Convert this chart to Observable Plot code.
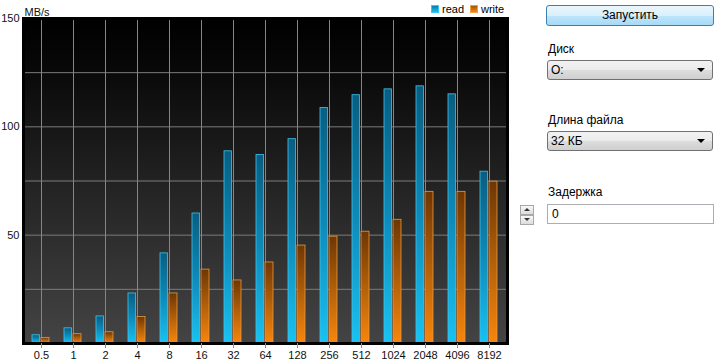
<!DOCTYPE html>
<html>
<head>
<meta charset="utf-8">
<script src="https://cdn.jsdelivr.net/npm/d3@7"></script>
<script src="https://cdn.jsdelivr.net/npm/@observablehq/plot@0.6"></script>
<style>
  html, body { margin: 0; padding: 0; background: #fff; }
  #root { position: relative; width: 718px; height: 360px; overflow: hidden; font-family: "Liberation Sans", Arial, sans-serif; font-size: 12px; color: #000; }
  #chart { position: absolute; left: 0; top: 0; }
  .abs { position: absolute; }
  .legend { position: absolute; top: 3px; font-size: 11px; line-height: 12px; white-space: nowrap; }
  .sw { display: inline-block; width: 6px; height: 6px; vertical-align: 0px; margin-right: 3px; }
  .btn { position: absolute; left: 546px; top: 5px; width: 166px; height: 19px; border: 1px solid #3c7fb1; border-radius: 3px;
         background: linear-gradient(#eaf6fd 0%, #d9f0fc 50%, #bee6fd 51%, #a7d9f5 100%); text-align: center; line-height: 19px; font-size: 12px; }
  .lbl { position: absolute; left: 548px; font-size: 12px; }
  .sel { position: absolute; left: 547px; width: 164px; height: 18px; border: 1px solid #707070; border-radius: 3px;
         background: linear-gradient(#f2f2f2 0%, #ebebeb 50%, #dddddd 51%, #cfcfcf 100%); font-size: 12px; line-height: 18px; }
  .sel span { position: absolute; left: 3px; top: 0; }
  .sel i { position: absolute; right: 7px; top: 7px; width: 0; height: 0; border-left: 4px solid transparent; border-right: 4px solid transparent; border-top: 4px solid #000; }
  .inp { position: absolute; left: 547px; top: 204px; width: 165px; height: 18px; border: 1px solid #abadb3; background: #fff; font-size: 12px; line-height: 18px; }
  .spin { position: absolute; left: 520px; width: 12px; height: 8px; border: 1px solid #a8a8a8; background: linear-gradient(#f8f8f8, #dcdcdc); }
  .spin i { position: absolute; left: 3px; width: 0; height: 0; border-left: 3px solid transparent; border-right: 3px solid transparent; }
</style>
</head>
<body>
<div id="root">
  <div id="chart"></div>
  <div class="legend" style="left:431px;"><span class="sw" style="background:linear-gradient(#0a7fae,#1bbcef);border:0.5px solid #38c6f3"></span>read</div>
  <div class="legend" style="left:470px;"><span class="sw" style="background:linear-gradient(#a65408,#f08a1c);border:0.5px solid #f5a040"></span>write</div>

  <div class="btn">Запустить</div>
  <div class="lbl" style="top:42px;">Диск</div>
  <div class="sel" style="top:60px;"><span>O:</span><i></i></div>
  <div class="lbl" style="top:113px;">Длина файла</div>
  <div class="sel" style="top:131px;"><span>32 КБ</span><i></i></div>
  <div class="lbl" style="top:185px;">Задержка</div>
  <div class="spin" style="top:205px;"><i style="top:2px;border-bottom:3px solid #333;"></i></div>
  <div class="spin" style="top:215px;"><i style="top:2px;border-top:3px solid #333;"></i></div>
  <div class="inp"><span style="position:absolute;left:4px;">0</span></div>
</div>
<script>
// ---- data ----
const blockSizes = ["0.5","1","2","4","8","16","32","64","128","256","512","1024","2048","4096","8192"];
const readMBs   = [3.8, 7.0, 12.5, 23.1, 41.6, 60.0, 88.7, 87.0, 94.3, 108.7, 114.6, 117.3, 118.7, 115.0, 79.3];
const writeMBs  = [2.6, 4.3, 5.2, 12.2, 23.1, 34.1, 29.1, 37.4, 45.2, 49.3, 51.6, 57.1, 70.0, 70.0, 74.7];
const yTickLabels = [50, 100, 150];
const yGridValues = [25, 50, 75, 100, 125];
const seriesNames = ["read", "write"];
const unitLabel = "MB/s";

const readRows = blockSizes.map((k, i) => ({size: k, value: readMBs[i]}));
const writeRows = blockSizes.map((k, i) => ({size: k, value: writeMBs[i]}));

const chart = Plot.plot({
  width: 512,
  height: 360,
  marginLeft: 23,
  marginRight: 5,
  marginTop: 18,
  marginBottom: 17,
  style: {fontFamily: "'Liberation Sans', Arial, sans-serif", fontSize: "11px", color: "#000", background: "transparent", overflow: "visible"},
  x: {domain: blockSizes, range: [24.7, 504.7], padding: 0, label: null},
  y: {domain: [0, 150], label: null},
  marks: [
    Plot.frame({fill: "url(#bgGrad)"}),
    Plot.gridY(yGridValues, {stroke: "#7c7c7c", strokeOpacity: 1}),
    Plot.ruleX(blockSizes, {x: d => d, stroke: "#858585", strokeWidth: 1}),
    Plot.barY(readRows, {x: "size", y: "value", fill: "url(#readGrad)", stroke: "#3fc4ee", strokeWidth: 0.8, insetLeft: 7, insetRight: 17.5}),
    Plot.barY(writeRows, {x: "size", y: "value", fill: "url(#writeGrad)", stroke: "#e89a40", strokeWidth: 0.8, insetLeft: 16, insetRight: 8}),
    Plot.frame({stroke: "#000", strokeWidth: 3}),
    Plot.axisX({tickSize: 5, tickPadding: 3, stroke: "#8a8a8a", fill: "#111", label: null}),
    Plot.axisY({ticks: yTickLabels, tickSize: 0, tickPadding: 4, fill: "#111", label: null}),
    Plot.text([unitLabel], {frameAnchor: "top-left", textAnchor: "start", dx: 1, dy: -10, fill: "#111"})
  ]
});

const defs = d3.select(chart).insert("defs", ":first-child");
function grad(id, stops) {
  const g = defs.append("linearGradient").attr("id", id).attr("x1", 0).attr("y1", 0).attr("x2", 0).attr("y2", 1);
  stops.forEach(([o, c]) => g.append("stop").attr("offset", o).attr("stop-color", c));
}
grad("bgGrad", [[0, "#000000"], [0.12, "#060606"], [0.5, "#222222"], [1, "#444444"]]);
grad("readGrad", [[0, "#0a5d80"], [0.5, "#0f8ab8"], [1, "#19c2f2"]]);
grad("writeGrad", [[0, "#6e3604"], [0.5, "#b2600a"], [1, "#f8860c"]]);

document.getElementById("chart").appendChild(chart);
</script>
</body>
</html>
